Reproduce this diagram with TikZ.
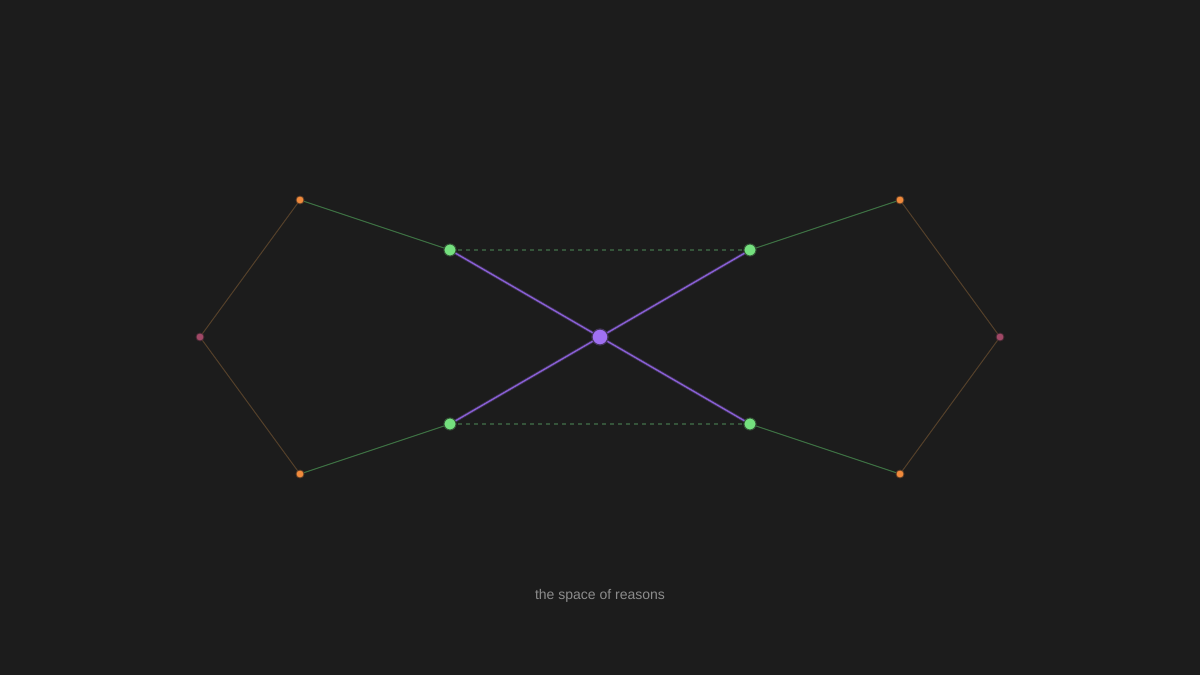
\documentclass[tikz,border=0pt]{standalone}
\usepackage{fontspec}
\setmainfont{Liberation Sans}
\usepackage{tikz}
\definecolor{bg}{HTML}{1C1C1C}
\definecolor{vio}{HTML}{A070F2}
\definecolor{grn}{HTML}{74E07E}
\definecolor{org}{HTML}{F08A3C}
\definecolor{ros}{HTML}{A04866}
\definecolor{violine}{HTML}{8A60D6}
\definecolor{grnline}{HTML}{3E7244}
\definecolor{orgline}{HTML}{54402A}
\definecolor{dashline}{HTML}{35543A}
\definecolor{txt}{HTML}{8C8C8C}
\begin{document}
\begin{tikzpicture}[x=1pt,y=-1pt,
	dot/.style={circle,inner sep=0pt,minimum size=#1},
	hub/.style={dot=16pt,fill=vio,draw=vio!30!bg,line width=1.2pt},
	mid/.style={dot=12pt,fill=grn,draw=grn!30!bg,line width=1pt},
	tip/.style={dot=8pt,fill=org,draw=org!30!bg,line width=0.8pt},
	end/.style={dot=8pt,fill=ros,draw=ros!30!bg,line width=0.8pt}]
	\fill[bg] (0,0) rectangle (1200,675);
	\useasboundingbox (0,0) rectangle (1200,675);
	% points
	\coordinate (c) at (600,337);
	\coordinate (g1) at (450,250);
	\coordinate (g2) at (750,250);
	\coordinate (g3) at (450,424);
	\coordinate (g4) at (750,424);
	\coordinate (o1) at (300,200);
	\coordinate (o2) at (900,200);
	\coordinate (o3) at (300,474);
	\coordinate (o4) at (900,474);
	\coordinate (r1) at (200,337);
	\coordinate (r2) at (1000,337);
	% outer edges
	\draw[orgline,line width=1pt] (o1) -- (r1) -- (o3);
	\draw[orgline,line width=1pt] (o2) -- (r2) -- (o4);
	\draw[grnline,line width=1pt] (o1) -- (g1);
	\draw[grnline,line width=1pt] (o2) -- (g2);
	\draw[grnline,line width=1pt] (o3) -- (g3);
	\draw[grnline,line width=1pt] (o4) -- (g4);
	\draw[dashline,line width=1.2pt,dash pattern=on 4pt off 4pt] (g1) -- (g2);
	\draw[dashline,line width=1.2pt,dash pattern=on 4pt off 4pt] (g3) -- (g4);
	% cross
	\draw[violine!30!bg,line width=3pt] (g1) -- (g4) (g2) -- (g3);
	\draw[violine,line width=1.3pt] (g1) -- (g4) (g2) -- (g3);
	% dots
	\node[tip] (no1) at (o1) {};
	\node[tip] (no2) at (o2) {};
	\node[tip] (no3) at (o3) {};
	\node[tip] (no4) at (o4) {};
	\node[end] (nr1) at (r1) {};
	\node[end] (nr2) at (r2) {};
	\node[mid] (ng1) at (g1) {};
	\node[mid] (ng2) at (g2) {};
	\node[mid] (ng3) at (g3) {};
	\node[mid] (ng4) at (g4) {};
	\node[hub] (hub) at (c) {};
	\node[txt,font=\fontsize{14pt}{16pt}\selectfont] (cap) at (600,596) {the space of reasons};
\end{tikzpicture}
\end{document}
